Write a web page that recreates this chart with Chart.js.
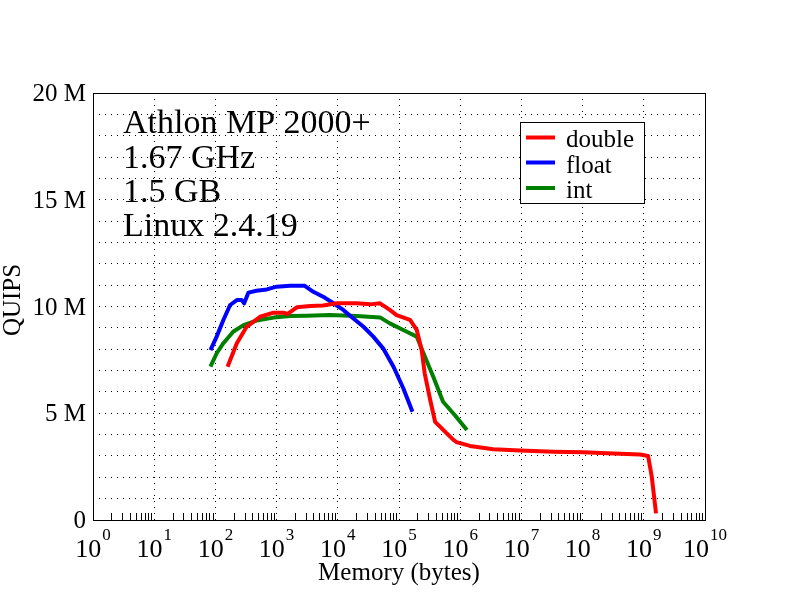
<!DOCTYPE html>
<html>
<head>
<meta charset="utf-8">
<script src="https://cdn.jsdelivr.net/npm/chart.js@4/dist/chart.umd.min.js"></script>
<style>
  html, body { margin: 0; padding: 0; background: #fff; }
  #wrap { width: 792px; height: 612px; }
</style>
</head>
<body>
<div id="wrap"><canvas id="mycanvas" width="792" height="612"></canvas></div>
<script>
// memory size in bytes, QUIPS in millions
var doubleBytes = [158, 224, 324, 537, 891, 1288, 1514, 2138, 3548, 5754, 9550, 20417, 33884, 48978, 70795, 91201, 151356, 194984, 234423, 263027, 323594, 389045, 467735, 602560, 776247, 870964, 1445440, 3467369, 9549926, 33113112, 102329299, 316227766, 870963590, 1174897555, 1348962883, 1584893192];
var doubleQuips = [7.18, 8.28, 9.05, 9.52, 9.71, 9.71, 9.65, 9.96, 10.02, 10.05, 10.15, 10.15, 10.10, 10.15, 9.84, 9.60, 9.37, 8.90, 7.96, 6.87, 5.62, 4.60, 4.37, 4.06, 3.75, 3.65, 3.47, 3.31, 3.25, 3.20, 3.17, 3.12, 3.07, 3.00, 2.03, 0.31];

var floatBytes = [83, 105, 135, 174, 224, 269, 295, 347, 468, 692, 1000, 1660, 2884, 3981, 5754, 8511, 12303, 17783, 26303, 38019, 54954, 81283, 117490, 165959];
var floatQuips = [7.96, 8.59, 9.37, 10.07, 10.30, 10.30, 10.15, 10.65, 10.74, 10.80, 10.93, 10.97, 10.97, 10.69, 10.46, 10.15, 9.84, 9.45, 9.05, 8.59, 8.04, 7.18, 6.17, 5.07];

var intBytes = [83, 105, 135, 195, 288, 468, 891, 1660, 3090, 7413, 20417, 48978, 70795, 117490, 194984, 251189, 363078, 524807, 812831, 1288250];
var intQuips = [7.18, 7.81, 8.28, 8.82, 9.13, 9.34, 9.48, 9.56, 9.57, 9.60, 9.56, 9.49, 9.21, 8.90, 8.59, 7.81, 6.71, 5.54, 4.92, 4.22];

var seriesNames = ['double', 'float', 'int'];
var seriesColors = ['#ff0000', '#0000ff', '#008000'];
var xExponents = [0, 1, 2, 3, 4, 5, 6, 7, 8, 9, 10];
var yLabelValues = [0, 5, 10, 15, 20];
var infoLines = ['Athlon MP 2000+', '1.67 GHz', '1.5 GB', 'Linux 2.4.19'];

var SERIF = '"Liberation Serif", "Times New Roman", serif';

function toPoints(xs, ys) {
	var pts = [];
	for (var i = 0; i < xs.length; i++) {
		pts.push({x: xs[i], y: ys[i]});
	}
	return pts;
}

function isDecade(v) {
	var l = Math.log10(v);
	return Math.abs(l - Math.round(l)) < 1e-6;
}

var overlay = {
	id: 'overlay',
	afterDraw: function(chart) {
		var ctx = chart.ctx;
		var a = chart.chartArea;
		var x = chart.scales.x;
		var y = chart.scales.y;
		ctx.save();

		// frame
		ctx.strokeStyle = '#000';
		ctx.lineWidth = 1;
		ctx.setLineDash([]);
		ctx.strokeRect(Math.round(a.left) + 0.5, Math.round(a.top) + 0.5, Math.round(a.right - a.left), Math.round(a.bottom - a.top));

		// minor ticks on bottom axis
		ctx.beginPath();
		for (var e = 0; e < 10; e++) {
			for (var m = 2; m <= 9; m++) {
				var px = Math.round(x.getPixelForValue(m * Math.pow(10, e))) + 0.5;
				ctx.moveTo(px, a.bottom);
				ctx.lineTo(px, a.bottom - 7);
			}
		}
		ctx.stroke();

		// x tick labels 10^n
		ctx.fillStyle = '#000';
		ctx.textBaseline = 'alphabetic';
		xExponents.forEach(function(n) {
			var px = x.getPixelForValue(Math.pow(10, n));
			ctx.font = '26px ' + SERIF;
			var w1 = ctx.measureText('10').width;
			ctx.font = '17px ' + SERIF;
			var w2 = ctx.measureText(String(n)).width;
			var left = px - (w1 + w2 + 1) / 2;
			ctx.font = '26px ' + SERIF;
			ctx.textAlign = 'left';
			ctx.fillText('10', left, 557);
			ctx.font = '17px ' + SERIF;
			ctx.fillText(String(n), left + w1 + 1, 540);
		});

		// y tick labels
		ctx.font = '25px ' + SERIF;
		ctx.textAlign = 'right';
		yLabelValues.forEach(function(v) {
			var py = y.getPixelForValue(v);
			ctx.fillText(v === 0 ? '0' : v + ' M', 86, py + 8);
		});

		// axis titles
		ctx.textAlign = 'center';
		ctx.fillText('Memory (bytes)', 399, 580);
		ctx.save();
		ctx.translate(20, 300);
		ctx.rotate(-Math.PI / 2);
		ctx.fillText('QUIPS', 0, 0);
		ctx.restore();

		// machine info
		ctx.font = '34px ' + SERIF;
		ctx.textAlign = 'left';
		var bases = [133, 167.5, 201.5, 236];
		infoLines.forEach(function(t, i) {
			ctx.fillText(t, 123, bases[i]);
		});

		// legend
		ctx.fillStyle = '#fff';
		ctx.fillRect(520.5, 122.5, 124, 81);
		ctx.strokeStyle = '#000';
		ctx.lineWidth = 1;
		ctx.strokeRect(520.5, 122.5, 124, 81);
		var ly = [137.5, 162.5, 188];
		var tb = [147, 172.5, 198];
		ctx.font = '25px ' + SERIF;
		seriesNames.forEach(function(name, i) {
			ctx.strokeStyle = seriesColors[i];
			ctx.lineWidth = 4;
			ctx.beginPath();
			ctx.moveTo(526, ly[i]);
			ctx.lineTo(555, ly[i]);
			ctx.stroke();
			ctx.fillStyle = '#000';
			ctx.fillText(name, 566, tb[i]);
		});

		ctx.restore();
	}
};

var chartdata = {
	datasets: [
		{label: seriesNames[0], data: toPoints(doubleBytes, doubleQuips), borderColor: seriesColors[0]},
		{label: seriesNames[1], data: toPoints(floatBytes, floatQuips), borderColor: seriesColors[1]},
		{label: seriesNames[2], data: toPoints(intBytes, intQuips), borderColor: seriesColors[2]}
	]
};
chartdata.datasets.forEach(function(d) {
	d.showLine = true;
	d.borderWidth = 4;
	d.pointRadius = 0;
	d.tension = 0;
	d.fill = false;
	d.borderJoinStyle = 'round';
});

var ctx = document.getElementById('mycanvas');

var graph = new Chart(ctx, {
	type: 'scatter',
	data: chartdata,
	plugins: [{
		id: 'bg',
		beforeDraw: function(chart) {
			chart.ctx.save();
			chart.ctx.fillStyle = '#fff';
			chart.ctx.fillRect(0, 0, chart.width, chart.height);
			chart.ctx.restore();
		}
	}, overlay],
	options: {
		responsive: false,
		animation: false,
		layout: {padding: {left: 93, top: 93, right: 87, bottom: 92}},
		plugins: {legend: {display: false}, tooltip: {enabled: false}},
		scales: {
			x: {
				type: 'logarithmic',
				min: 1,
				max: 1e10,
				ticks: {display: false},
				grid: {
					drawTicks: false,
					lineWidth: 1,
					color: function(c) {
						return (c.tick && isDecade(c.tick.value)) ? '#000' : 'rgba(0,0,0,0)';
					}
				},
				border: {display: false, dash: [1, 5]}
			},
			y: {
				min: 0,
				max: 20,
				ticks: {display: false, stepSize: 1},
				grid: {drawTicks: false, lineWidth: 1, color: '#000'},
				border: {display: false, dash: [1, 5]}
			}
		}
	}
});
</script>
</body>
</html>
